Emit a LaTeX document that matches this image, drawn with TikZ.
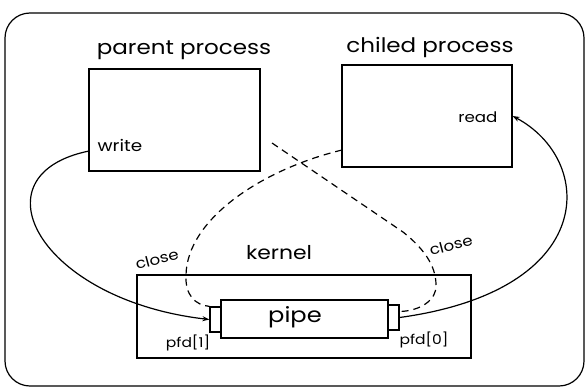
\documentclass[tikz,border=0pt]{standalone}
\usepackage{fontspec}
\setmainfont{Poppins}[FakeStretch=1.15]
\usetikzlibrary{arrows.meta,calc}
\begin{document}
\begin{tikzpicture}[x=1pt,y=-1pt,line width=1.2pt,
  box/.style={draw,inner sep=0pt},
  ttl/.style={font=\fontsize{20}{20}\selectfont,inner sep=0pt},
  dsh/.style={dash pattern=on 7pt off 5pt},
  arr/.style={-{Stealth[length=7pt,width=5pt]}}]
\useasboundingbox (0,0) rectangle (586,388);
\node[box,rounded corners=25pt,minimum width=579pt,minimum height=373pt] (frame) at (294.5,199.5) {};
% boxes
\node[box,minimum width=171pt,minimum height=102pt] (parent) at (174.5,120) {};
\node[box,minimum width=170pt,minimum height=102pt] (child) at (427,116) {};
\node[box,minimum width=334pt,minimum height=83pt] (kernel) at (304,316.5) {};
\node[box,minimum width=167pt,minimum height=38pt] (pipe) at (304.5,319) {};
\node[box,minimum width=11pt,minimum height=25pt] (lcap) at (215.5,319.5) {};
\node[box,minimum width=11pt,minimum height=25pt] (rcap) at (393.5,317.5) {};
% texts
\node[ttl] (ptitle) at (184,50) {parent process};
\node[ttl] (ctitle) at (430,47) {chiled process};
\node[font=\fontsize{19}{19}\selectfont,inner sep=0pt] (ktitle) at (279,253) {kernel};
\node[font=\fontsize{21}{21}\selectfont,inner sep=0pt] (ptext) at (295,317) {pipe};
\node[font=\fontsize{16}{16}\selectfont,inner sep=0pt,anchor=west] (write) at (97,145) {write};
\node[font=\fontsize{14.5}{14.5}\selectfont,inner sep=0pt,anchor=east] (read) at (498,117) {read};
\node[font=\fontsize{13.5}{13.5}\selectfont,inner sep=0pt] (pfd1) at (188,343) {pfd[1]};
\node[font=\fontsize{13.5}{13.5}\selectfont,inner sep=0pt] (pfd0) at (424,340) {pfd[0]};
\node[font=\fontsize{14.5}{14.5}\selectfont,inner sep=0pt,rotate=15] (close1) at (157,259) {close};
\node[font=\fontsize{14.5}{14.5}\selectfont,inner sep=0pt,rotate=15] (close2) at (451,245) {close};
% connectors
\coordinate (wr) at (89,151);
\coordinate (cl) at (342,150);
\coordinate (pr) at (272,143);
\coordinate (bend) at (403,232);
\draw[arr] (wr) .. controls (-28,175) and (40,300) .. (lcap.west);
\draw[arr] (rcap.east) .. controls (600,290) and (595,160) .. (child.east);
\draw[dsh] (cl) .. controls (260,170) and (187,220) .. (186,275)
  .. controls (185,295) and (195,305) .. (lcap.north west);
\draw[dsh] (pr) -- (bend) .. controls (423,248) and (436,265) .. (436,285)
  .. controls (437,300) and (420,311) .. ($(rcap.east)+(0,-6)$);
\end{tikzpicture}
\end{document}
